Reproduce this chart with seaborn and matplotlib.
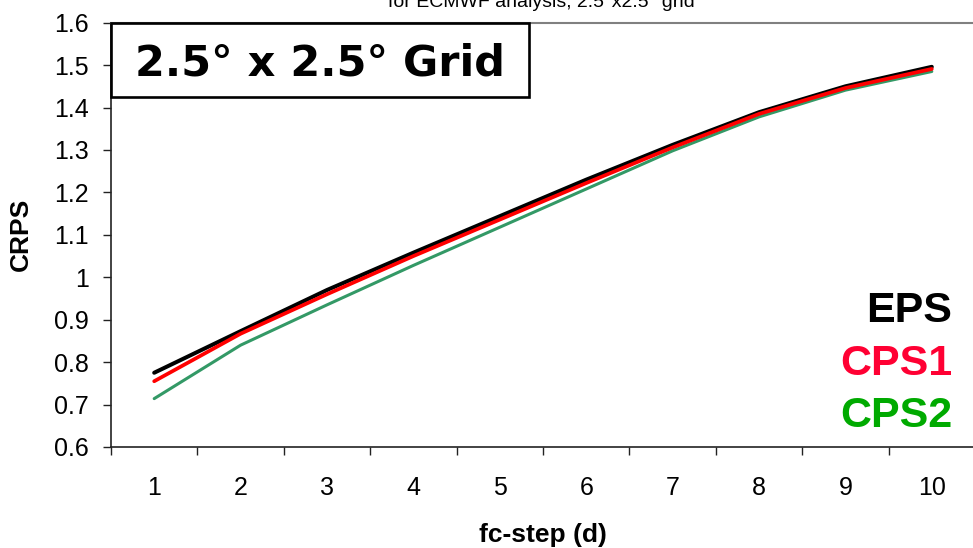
import matplotlib
matplotlib.use("Agg")
import matplotlib.pyplot as plt
import matplotlib.patches as patches
import seaborn as sns
import numpy as np

# CRPS per forecast step
steps = [1, 2, 3, 4, 5, 6, 7, 8, 9, 10]
eps = [0.775, 0.873, 0.970, 1.058, 1.144, 1.230, 1.312, 1.389, 1.450, 1.496]
cps1 = [0.755, 0.867, 0.960, 1.050, 1.136, 1.222, 1.306, 1.385, 1.446, 1.491]
cps2 = [0.714, 0.840, 0.935, 1.028, 1.118, 1.208, 1.298, 1.378, 1.441, 1.485]
yticks = [0.6, 0.7, 0.8, 0.9, 1.0, 1.1, 1.2, 1.3, 1.4, 1.5, 1.6]
ytick_labels = ["0.6", "0.7", "0.8", "0.9", "1", "1.1", "1.2", "1.3", "1.4", "1.5", "1.6"]

sns.set_style("ticks")
plt.rcParams['font.family'] = ['Liberation Sans', 'DejaVu Sans']
plt.rcParams['text.color'] = 'black'
plt.rcParams['axes.labelcolor'] = 'black'
plt.rcParams['xtick.color'] = 'black'
plt.rcParams['ytick.color'] = 'black'

fig = plt.figure(figsize=(9.73, 5.48), dpi=100)
ax = fig.add_axes([111 / 973, 101 / 548, 864 / 973, 424.3 / 548])

# green first, then black, red on top
series = [
    ("CPS2", cps2, "#339966", 2.2),
    ("EPS", eps, "#000000", 2.9),
    ("CPS1", cps1, "#ff0000", 2.7),
]
for name, vals, color, lw in series:
    sns.lineplot(x=steps, y=vals, color=color, linewidth=lw, ax=ax,
                 solid_capstyle='round')

ax.set_xlim(0.5, 10.5)
ax.set_ylim(0.6, 1.6)

ax.set_xticks(steps)
ax.set_xticklabels([str(s) for s in steps])
ax.set_xticks(np.arange(0.5, 11, 1), minor=True)
ax.tick_params(axis='x', which='major', length=0, pad=21, labelsize=18)
ax.tick_params(axis='x', which='minor', length=6, width=1, direction='out', color='#222222')
ax.set_yticks(yticks)
ax.set_yticklabels(ytick_labels)
ax.tick_params(axis='y', length=6, width=1, direction='out', pad=10, labelsize=18,
               color='#222222')

for side in ['left', 'bottom']:
    ax.spines[side].set_color('#222222')
    ax.spines[side].set_linewidth(1.2)
for side in ['top', 'right']:
    ax.spines[side].set_color('#808080')
    ax.spines[side].set_linewidth(1.5)

ax.set_xlabel("fc-step (d)", fontsize=19, fontweight='bold')
ax.xaxis.set_label_coords(0.5, -0.178)
ax.set_ylabel("CRPS", fontsize=19, fontweight='bold')
ax.yaxis.set_label_coords(-0.09, 0.5)

# boxed grid label
box = patches.Rectangle((0, 1 - 0.1745), 0.484, 0.1745, transform=ax.transAxes,
                        fill=False, edgecolor='black', linewidth=1.9, clip_on=False, zorder=5)
ax.add_patch(box)
ax.text(0.2419, 0.8744, "2.5° x 2.5° Grid", transform=ax.transAxes, ha='center',
        va='baseline', fontsize=31, fontweight='bold', family='DejaVu Sans', zorder=6)

# series labels
labels = [("EPS", "#000000", 0.2953), ("CPS1", "#ff0033", 0.1697), ("CPS2", "#00aa00", 0.0471)]
for text, color, ypos in labels:
    ax.text(0.9734, ypos, text, transform=ax.transAxes, ha='right', va='baseline',
            fontsize=31, fontweight='bold', color=color)

# title, mostly cut off at the top edge
fig.text(541 / 973, 1 - 7 / 548, "for ECMWF analysis, 2.5°x2.5° grid", ha='center',
         va='baseline', fontsize=14)

fig.savefig("out.png", dpi=100)
